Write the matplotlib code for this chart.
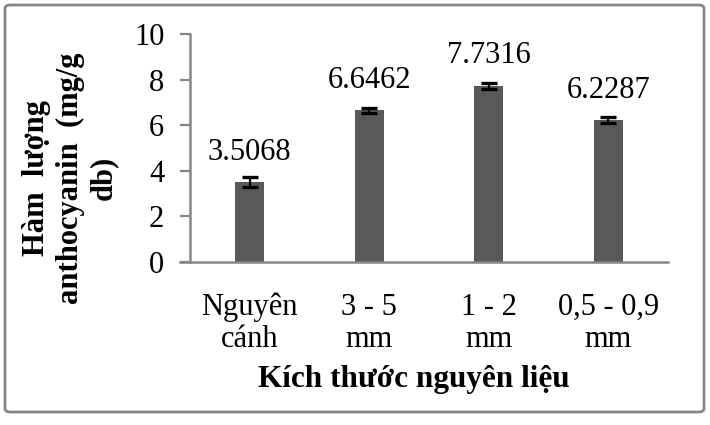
import matplotlib
matplotlib.use("Agg")
import matplotlib.pyplot as plt
from matplotlib.patches import FancyBboxPatch

categories = ["Nguyên\ncánh", "3 - 5\nmm", "1 - 2\nmm", "0,5 - 0,9\nmm"]
values = [3.5068, 6.6462, 7.7316, 6.2287]
errors = [0.22, 0.12, 0.13, 0.12]
labels = ["3.5068", "6.6462", "7.7316", "6.2287"]
yticks = [0, 2, 4, 6, 8, 10]

plt.rcParams['font.family'] = ['Liberation Serif', 'DejaVu Serif']

W, H = 710, 425
fig = plt.figure(figsize=(W / 100, H / 100), dpi=100)
ax = fig.add_axes([190 / W, 1 - 262 / H, (668 - 190) / W, (262 - 34) / H])

x = range(len(categories))
ax.bar(x, values, width=0.245, color="#595959", zorder=2)
ax.errorbar(x, values, yerr=errors, fmt="none", ecolor="black", elinewidth=1.6,
            capsize=5.5, capthick=2.4, zorder=3)
for xi, v, lab in zip(x, values, labels):
    ax.annotate(lab, (xi, v), xytext=(0, 11), textcoords="offset points",
                ha="center", va="bottom", fontsize=22, annotation_clip=False)

ax.set_xlim(-0.5, len(categories) - 0.5)
ax.set_ylim(0, 10)
ax.set_yticks(yticks)
ax.set_yticklabels([str(t) for t in yticks], fontsize=22)
ax.set_xticks(list(x))
ax.set_xticklabels(categories, fontsize=22, linespacing=1.15)
ax.tick_params(axis="x", length=0, pad=22)
ax.tick_params(axis="y", length=7.5, width=1.6, color="#868686", pad=11)

for s in ["top", "right"]:
    ax.spines[s].set_visible(False)
for s in ["left", "bottom"]:
    ax.spines[s].set_color("#868686")
    ax.spines[s].set_linewidth(1.8)
ax.spines["bottom"].set_bounds(-0.5 - 10 / 119.5, len(categories) - 0.5)

fig.text(414 / W, 1 - 380 / H, "Kích thước nguyên liệu", ha="center", va="center",
         fontsize=22.5, fontweight="bold")
fig.text(70 / W, 1 - 178 / H, "Hàm  lượng\nanthocyanin  (mg/g\ndb)", ha="center",
         va="center", rotation=90, fontsize=22, fontweight="bold", linespacing=1.2,
         multialignment="center")

border = FancyBboxPatch((5 / W, 1 - 412 / H), 699 / W, (412 - 5) / H,
                        boxstyle="round,pad=0,rounding_size=0.008",
                        transform=fig.transFigure, fill=False,
                        edgecolor="#868686", linewidth=2)
fig.patches.append(border)

fig.savefig("out.png", dpi=100)
